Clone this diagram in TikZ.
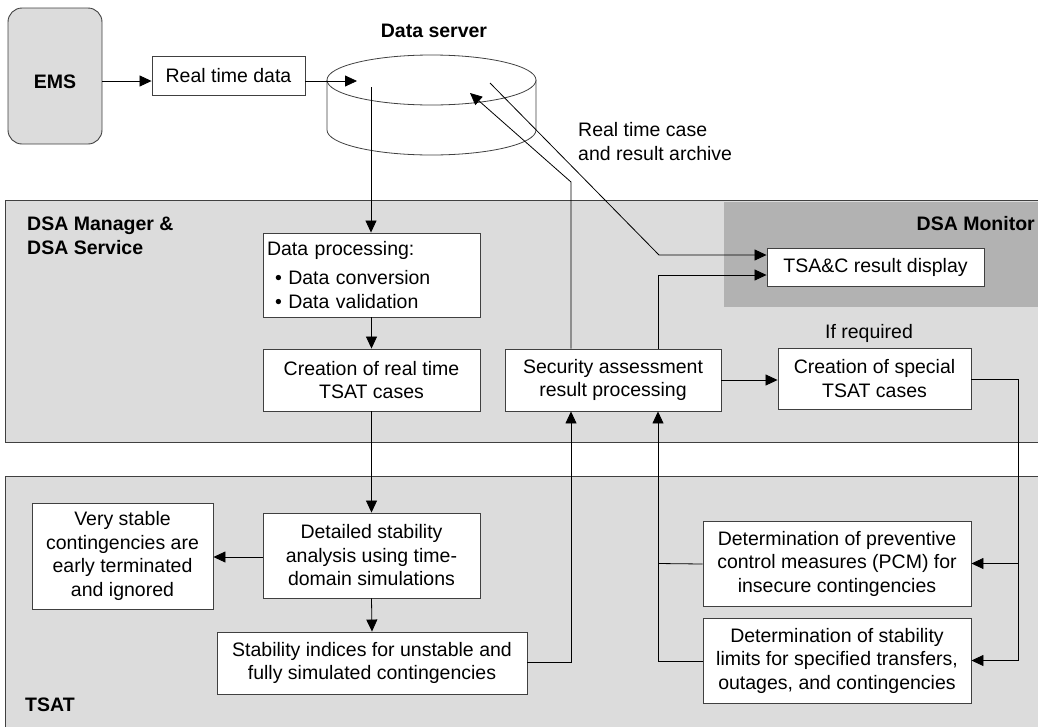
\documentclass[tikz,border=0pt]{standalone}
\usepackage{fontspec}
\setmainfont{Liberation Sans}
\usetikzlibrary{arrows.meta,calc}
\definecolor{regionfill}{HTML}{DCDCDC}
\definecolor{monitorfill}{HTML}{B2B2B2}
\definecolor{edgec}{HTML}{404040}
\begin{document}
\begin{tikzpicture}[x=1pt,y=-1pt,
  font=\fontsize{19.5}{23.5}\selectfont,
  box/.style={draw=edgec, fill=white, line width=0.9pt, align=center, inner sep=0pt},
  region/.style={draw=edgec, line width=0.9pt, fill=regionfill},
  conn/.style={draw=black, line width=0.8pt},
  arr/.style={conn, -{Triangle[length=12pt,width=11pt]}},
  lbl/.style={inner sep=0pt, font=\fontsize{19.5}{23.5}\selectfont\bfseries},
  txt/.style={inner sep=0pt}]
\useasboundingbox (0,0) rectangle (1038,726);

% regions
\path[region] (5,200) rectangle (1045,442);
\path[fill=monitorfill] (724,202) rectangle (1045,307);
\path[region] (5,476) rectangle (1045,735);

% EMS
\node[box, fill=regionfill, rounded corners=14pt, minimum width=94pt, minimum height=136pt, text height=24pt, text depth=0pt, font=\fontsize{19.5}{23.5}\selectfont\bfseries] (ems) at (55,76) {EMS};
\node[box, minimum width=153pt, minimum height=39pt] (rtd) at (228.5,75.5) {Real time data};

% data server cylinder
\draw[draw=edgec, line width=0.8pt, fill=white] (327,80) -- (327,130) arc[start angle=180, end angle=360, x radius=104.5pt, y radius=25pt] -- (536,80);
\draw[draw=edgec, line width=0.8pt, fill=white] (431.5,80) ellipse [x radius=104.5pt, y radius=25pt];
\coordinate (dsin) at (357,81);
\coordinate (dsout) at (371,87);
\coordinate (dsret) at (470,93);
\coordinate (dsarc) at (490,83);
\node[lbl] (dslabel) at (434,31) {Data server};

% DSA Manager boxes
\node[box, text width=209pt, inner xsep=4pt, align=left, minimum height=84pt] (dp) at (371.5,275) {Data processing:\\[6pt]\hspace*{8pt}• Data conversion\\\hspace*{8pt}• Data validation};
\node[box, minimum width=217pt, minimum height=62pt] (crt) at (371.5,380) {Creation of real time\\TSAT cases};
\node[box, minimum width=216pt, minimum height=62pt] (sec) at (613,380) {Security assessment\\result processing};
\node[box, minimum width=193pt, minimum height=61pt] (spc) at (874.5,378.5) {Creation of special\\TSAT cases};
\node[box, minimum width=217pt, minimum height=38pt] (tsa) at (875.5,267) {TSA\&C result display};

% TSAT boxes
\node[box, minimum width=181pt, minimum height=106pt] (vs) at (122.5,556) {Very stable\\contingencies are\\early terminated\\and ignored};
\node[box, minimum width=217pt, minimum height=85pt] (det) at (371.5,555.5) {Detailed stability\\analysis using time-\\domain simulations};
\node[box, minimum width=310pt, minimum height=62pt] (si) at (372,663) {Stability indices for unstable and\\fully simulated contingencies};
\node[box, minimum width=268pt, minimum height=85pt] (pcm) at (837,563.5) {Determination of preventive\\control measures (PCM) for\\insecure contingencies};
\node[box, minimum width=268pt, minimum height=85pt] (lim) at (837,660.5) {Determination of stability\\limits for specified transfers,\\outages, and contingencies};

% labels
\node[lbl, anchor=west, align=left] (mgr) at (27,236) {DSA Manager \&\\DSA Service};
\node[lbl, anchor=east] (mon) at (1035,224) {DSA Monitor};
\node[lbl, anchor=west] (tsat) at (25,705) {TSAT};
\node[txt, anchor=west, align=left] (arch) at (578,141.5) {Real time case\\and result archive};
\node[txt] (ifreq) at (869,333) {If required};

% connectors
\draw[arr] ($(ems.east)+(0,5)$) -- ($(rtd.west)+(0,5.5)$);
\draw[arr] ($(rtd.east)+(0,5.5)$) -- (dsin);
\draw[arr] (dsout) -- (dp.north -| dsout);
\draw[arr] (dp.south) -- (crt.north);
\draw[arr] (crt.south) -- (det.north);
\draw[arr] ($(det.west)+(0,1.5)$) -- ($(vs.east)+(0,1)$);
\draw[arr] (det.south) -- (si.north);
\coordinate (c1) at (571,662);
\draw[arr] ($(si.east)+(0,-1)$) -- (c1) -- (c1 |- sec.south);
\coordinate (c2) at (658,661);
\draw[conn] ($(pcm.west)+(0,0.5)$) -- (c2 |- pcm.west);
\draw[arr] ($(lim.west)+(0,0.5)$) -- (c2) -- (c2 |- sec.south);
\coordinate (c3) at (1018,379);
\draw[arr] ($(spc.east)+(0,0.5)$) -- (c3) -- (c3 |- lim.east) -- (lim.east);
\draw[arr] (c3 |- pcm.east) -- (pcm.east);
\draw[arr] (sec.east) -- (spc.west |- sec.east);
\coordinate (c4) at (658,275);
\draw[arr] (c4 |- sec.north) -- (c4) -- (tsa.west |- c4);
\coordinate (c5) at (571,182);
\draw[arr] (c5 |- sec.north) -- (c5) -- (dsret);
\coordinate (c6) at (659,255);
\draw[arr] (dsarc) -- (c6) -- (tsa.west |- c6);
\end{tikzpicture}
\end{document}
